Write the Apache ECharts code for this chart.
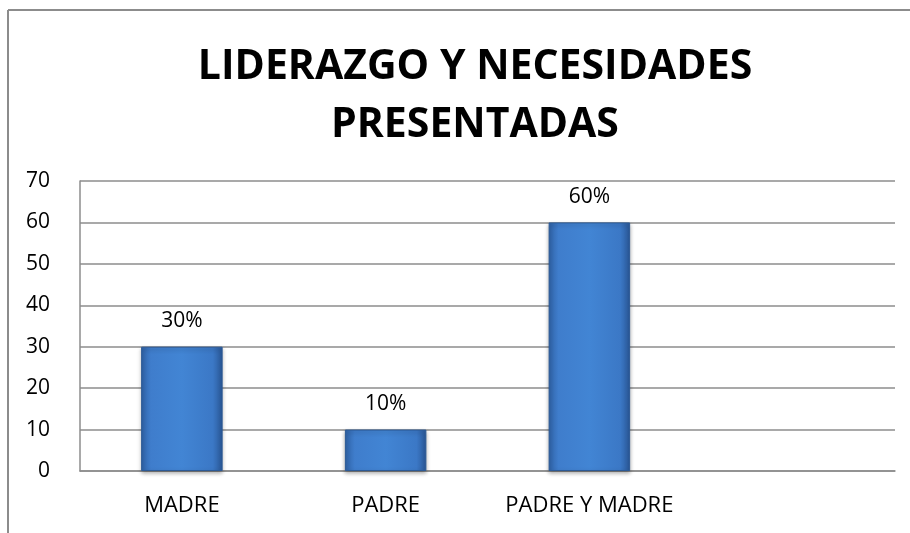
<!DOCTYPE html>
<html>
<head>
<meta charset="utf-8">
<script src="https://cdn.jsdelivr.net/npm/echarts@6/dist/echarts.min.js"></script>
<style>
  html, body { margin: 0; padding: 0; background: #fff; }
  #chart { width: 910px; height: 533px; }
</style>
</head>
<body>
<div id="chart"></div>
<script>
// categorias del eje x (la cuarta queda vacia como en el original)
const categories = ['MADRE', 'PADRE', 'PADRE Y MADRE', ''];
const values = [30, 10, 60, null];
const labels = ['30%', '10%', '60%', ''];
const yTicks = { min: 0, max: 70, interval: 10 };

const font = 'Open Sans, Noto Sans, sans-serif';

let chart = echarts.init(document.getElementById('chart'));

let barColor = new echarts.graphic.LinearGradient(0, 0, 1, 0, [
	{ offset: 0, color: '#2f62a6' },
	{ offset: 0.12, color: '#3f7dcc' },
	{ offset: 0.5, color: '#4285d4' },
	{ offset: 0.88, color: '#3b78c6' },
	{ offset: 1, color: '#2a5898' }
]);

let options = {
	animation: false,
	title: {
		text: 'LIDERAZGO Y NECESIDADES\nPRESENTADAS',
		left: 470,
		top: 33,
		textAlign: 'center',
		textStyle: {
			fontFamily: font,
			fontWeight: 'bold',
			fontSize: 41,
			lineHeight: 58,
			color: '#000'
		}
	},
	grid: {
		left: 80,
		right: 15,
		top: 181,
		bottom: 62
	},
	xAxis: {
		type: 'category',
		data: categories,
		axisLine: { lineStyle: { color: '#8c8c8c', width: 1.5 } },
		axisTick: { show: false },
		axisLabel: {
			interval: 0,
			hideOverlap: false,
			margin: 24,
			fontFamily: font,
			fontSize: 22,
			color: '#000'
		}
	},
	yAxis: {
		type: 'value',
		min: yTicks.min,
		max: yTicks.max,
		interval: yTicks.interval,
		axisLine: { show: true, lineStyle: { color: '#8c8c8c', width: 1.5 } },
		axisTick: { show: false },
		splitLine: { lineStyle: { color: '#8c8c8c', width: 1.5 } },
		axisLabel: {
			margin: 30,
			fontFamily: font,
			fontSize: 21,
			color: '#000'
		}
	},
	series: [
		{
			type: 'bar',
			data: values,
			barWidth: '40%',
			itemStyle: {
				color: barColor,
				borderColor: '#2c5a96',
				borderWidth: 1,
				shadowColor: 'rgba(0,0,0,0.3)',
				shadowBlur: 4,
				shadowOffsetY: 2
			},
			label: {
				show: true,
				position: 'top',
				distance: 15,
				fontFamily: font,
				fontSize: 21,
				color: '#000',
				formatter: p => labels[p.dataIndex]
			}
		}
	],
	graphic: [
		{
			type: 'line',
			shape: { x1: 8, y1: 10, x2: 910, y2: 10 },
			style: { stroke: '#8c8c8c', lineWidth: 2 }
		},
		{
			type: 'line',
			shape: { x1: 8, y1: 10, x2: 8, y2: 533 },
			style: { stroke: '#8c8c8c', lineWidth: 2 }
		}
	]
};

chart.setOption(options);
</script>
</body>
</html>
